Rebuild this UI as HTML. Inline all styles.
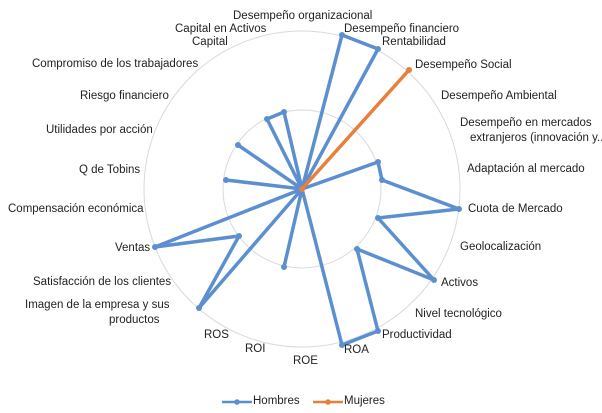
<!DOCTYPE html>
<html><head><meta charset="utf-8"><style>
body{margin:0;width:602px;height:413px;background:#fff;position:relative;overflow:hidden;font-family:"Liberation Sans",Arial,sans-serif;font-size:11.5px;color:#222}
.l{position:absolute;white-space:nowrap;line-height:13px}
svg{position:absolute;left:0;top:0}
</style></head><body>
<svg width="602" height="413">
<circle cx="302" cy="189" r="158" fill="none" stroke="#d9d9d9" stroke-width="1"/>
<circle cx="302" cy="189" r="79" fill="none" stroke="#d9d9d9" stroke-width="1"/>
<g stroke="#5b8fd0" stroke-width="3.5" fill="none" stroke-linejoin="round">
<polyline points="302,189 342,35 378,49 302,189 378,162 382,180 459,209 378,218 434,280 357,249 378,331 342,345 302,189 284,267 302,189 199,308 239,236 155,247 302,189 226,180 302,189 238,145 302,189 267,119 284,112 302,189"/>
</g>
<g fill="#5b8fd0">
<circle cx="342" cy="35" r="3"/><circle cx="378" cy="49" r="3"/><circle cx="378" cy="162" r="3"/><circle cx="382" cy="180" r="3"/><circle cx="459" cy="209" r="3"/><circle cx="378" cy="218" r="3"/><circle cx="434" cy="280" r="3"/><circle cx="357" cy="249" r="3"/><circle cx="378" cy="331" r="3"/><circle cx="342" cy="345" r="3"/><circle cx="284" cy="267" r="3"/><circle cx="199" cy="308" r="3"/><circle cx="239" cy="236" r="3"/><circle cx="155" cy="247" r="3"/><circle cx="226" cy="180" r="3"/><circle cx="238" cy="145" r="3"/><circle cx="267" cy="119" r="3"/><circle cx="284" cy="112" r="3"/>
</g>
<line x1="302" y1="189" x2="409" y2="70" stroke="#e8803b" stroke-width="3.5"/>
<circle cx="409" cy="70" r="3" fill="#e8803b"/><circle cx="302" cy="189" r="3" fill="#e8803b"/>
<line x1="222" y1="402" x2="252" y2="402" stroke="#5b8fd0" stroke-width="2.5"/><circle cx="237" cy="402" r="2.8" fill="#5b8fd0"/>
<line x1="313" y1="402" x2="343" y2="402" stroke="#e8803b" stroke-width="2.5"/><circle cx="328" cy="402" r="2.8" fill="#e8803b"/>
</svg>
<div class="l" style="left:253px;top:395px">Hombres</div>
<div class="l" style="left:344px;top:395px">Mujeres</div>
<div class="l" style="left:233px;top:10px">Desempeño organizacional</div>
<div class="l" style="left:175px;top:23px">Capital en Activos</div>
<div class="l" style="left:344px;top:23px">Desempeño financiero</div>
<div class="l" style="left:192px;top:36px">Capital</div>
<div class="l" style="left:382px;top:36px">Rentabilidad</div>
<div class="l" style="left:32px;top:58px">Compromiso de los trabajadores</div>
<div class="l" style="left:415px;top:59px">Desempeño Social</div>
<div class="l" style="left:80px;top:90px">Riesgo financiero</div>
<div class="l" style="left:441px;top:90px">Desempeño Ambiental</div>
<div class="l" style="left:460px;top:117px">Desempeño en mercados</div>
<div class="l" style="left:470px;top:132px">extranjeros (innovación y...</div>
<div class="l" style="left:46px;top:124px">Utilidades por acción</div>
<div class="l" style="left:79px;top:164px">Q de Tobins</div>
<div class="l" style="left:467px;top:163px">Adaptación al mercado</div>
<div class="l" style="left:8px;top:203px">Compensación económica</div>
<div class="l" style="left:468px;top:203px">Cuota de Mercado</div>
<div class="l" style="left:115px;top:242px">Ventas</div>
<div class="l" style="left:460px;top:241px">Geolocalización</div>
<div class="l" style="left:33px;top:276px">Satisfacción de los clientes</div>
<div class="l" style="left:441px;top:277px">Activos</div>
<div class="l" style="left:25px;top:299px">Imagen de la empresa y sus</div>
<div class="l" style="left:109px;top:314px">productos</div>
<div class="l" style="left:415px;top:308px">Nivel tecnológico</div>
<div class="l" style="left:204px;top:329px">ROS</div>
<div class="l" style="left:382px;top:329px">Productividad</div>
<div class="l" style="left:245px;top:343px">ROI</div>
<div class="l" style="left:344px;top:344px">ROA</div>
<div class="l" style="left:293px;top:355px">ROE</div>
</body></html>
